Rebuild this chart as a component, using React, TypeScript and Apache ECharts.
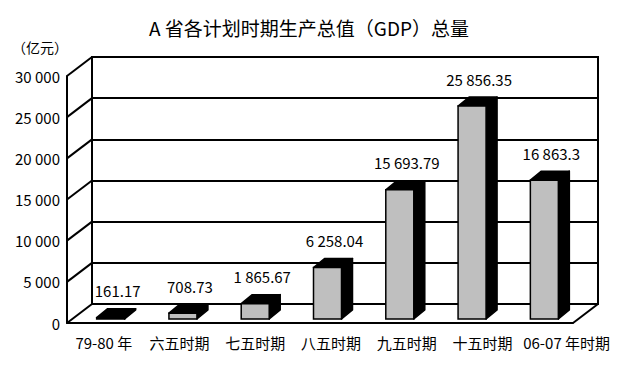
import React, { useEffect, useRef } from 'react';
import * as echarts from 'echarts';

// ---- data ----
const categories = ['79-80 年', '六五时期', '七五时期', '八五时期', '九五时期', '十五时期', '06-07 年时期'];
const gdpValues = [161.17, 708.73, 1865.67, 6258.04, 15693.79, 25856.35, 16863.3];
const yTicks = [0, 5000, 10000, 15000, 20000, 25000, 30000];
const titleText = 'A 省各计划时期生产总值（GDP）总量';
const unitText = '（亿元）';

// ---- styles ----
const FONT = "'Noto Sans CJK SC', 'Noto Sans', sans-serif";
const DEPTH_X = 25;
const DEPTH_Y = -19;
const BAR_W = 28;
const BAR_DX = 11;
const BAR_DY = -9;
const BAR_SHIFT_X = 7.5;
const BAR_SHIFT_Y = -4;
const LW = 2;

const fmtNum = (v: number): string => {
  const [ip, dp] = String(v).split('.');
  const s = ip.replace(/\B(?=(\d{3})+(?!\d))/g, ' ');
  return dp ? s + '.' + dp : s;
};

export default function App() {
  const ref = useRef<HTMLDivElement>(null);
  useEffect(() => {
    if (!ref.current) return;
    const chart = echarts.init(ref.current, undefined, { renderer: 'svg' });
    const labelData = categories.map((c, i) =>
      i === categories.length - 1 ? { value: c, textStyle: { padding: [0, 0, 0, 17] } } : c
    );
    const option: any = {
      animation: false,
      backgroundColor: '#fff',
      graphic: [
        {
          type: 'text',
          x: 309,
          y: 27,
          style: { text: titleText, align: 'center', verticalAlign: 'middle', fontSize: 19, fontFamily: FONT, fill: '#000' },
        },
        {
          type: 'text',
          x: 40,
          y: 47,
          style: { text: unitText, align: 'center', verticalAlign: 'middle', fontSize: 14, fontFamily: FONT, fill: '#000' },
        },
      ],
      grid: [
        { left: 67, right: 50, top: 76, bottom: 48 },
        { left: 92, right: 25, top: 57, bottom: 67, show: true, borderColor: '#000', borderWidth: LW, backgroundColor: 'transparent' },
        { left: 66, right: 27, top: 76, bottom: 48 },
      ],
      xAxis: [
        {
          gridIndex: 0, type: 'category', data: categories,
          axisLine: { show: true, lineStyle: { color: '#000', width: LW } },
          axisTick: { show: false }, axisLabel: { show: false }, splitLine: { show: false },
        },
        { gridIndex: 1, type: 'category', data: categories, show: false },
        {
          gridIndex: 2, type: 'category', data: labelData,
          axisLine: { show: false }, axisTick: { show: false }, splitLine: { show: false },
          axisLabel: { interval: 0, margin: 12, fontSize: 15, color: '#000', fontFamily: FONT },
        },
      ],
      yAxis: [
        {
          gridIndex: 0, type: 'value', min: 0, max: 30000, interval: 5000,
          axisLine: { show: true, lineStyle: { color: '#000', width: LW } },
          axisTick: { show: false }, splitLine: { show: false },
          axisLabel: { margin: 7, fontSize: 15, color: '#000', fontFamily: FONT, formatter: (v: number) => fmtNum(v) },
        },
        {
          gridIndex: 1, type: 'value', min: 0, max: 30000, interval: 5000,
          axisLine: { show: false }, axisTick: { show: false }, axisLabel: { show: false },
          splitLine: { show: true, lineStyle: { color: '#000', width: LW } },
        },
        { gridIndex: 2, type: 'value', min: 0, max: 30000, show: false, splitLine: { show: false } },
      ],
      series: [
        {
          type: 'custom',
          name: 'frame',
          xAxisIndex: 0,
          yAxisIndex: 0,
          silent: true,
          data: yTicks.map((v) => [0, v]),
          renderItem: (params: any, api: any) => {
            const cs = params.coordSys;
            const v = api.value(1);
            const y = api.coord([0, v])[1];
            const children: any[] = [
              { type: 'line', shape: { x1: cs.x, y1: y, x2: cs.x + DEPTH_X, y2: y + DEPTH_Y }, style: { stroke: '#000', lineWidth: LW } },
            ];
            if (v === 0) {
              const xr = cs.x + cs.width;
              children.push({ type: 'line', shape: { x1: xr, y1: y, x2: xr + DEPTH_X, y2: y + DEPTH_Y }, style: { stroke: '#000', lineWidth: LW } });
            }
            return { type: 'group', children };
          },
        },
        {
          type: 'custom',
          name: 'GDP',
          xAxisIndex: 0,
          yAxisIndex: 0,
          data: gdpValues.map((v, i) => [i, v]),
          renderItem: (_params: any, api: any) => {
            const i = api.value(0);
            const v = api.value(1);
            const base = api.coord([i, 0]);
            const top = api.coord([i, v]);
            const cx = base[0] + BAR_SHIFT_X;
            const L = cx - BAR_W / 2;
            const R = cx + BAR_W / 2;
            const B = base[1] + BAR_SHIFT_Y;
            const T = top[1] + BAR_SHIFT_Y;
            const dark = { fill: '#000', stroke: '#000', lineWidth: 1.5, lineJoin: 'round' };
            return {
              type: 'group',
              children: [
                { type: 'polygon', shape: { points: [[R, T], [R + BAR_DX, T + BAR_DY], [R + BAR_DX, B + BAR_DY], [R, B]] }, style: dark },
                { type: 'polygon', shape: { points: [[L, T], [L + BAR_DX, T + BAR_DY], [R + BAR_DX, T + BAR_DY], [R, T]] }, style: dark },
                { type: 'rect', shape: { x: L, y: T, width: BAR_W, height: Math.max(B - T, 0.5) }, style: { fill: '#bfbfbf', stroke: '#000', lineWidth: 1.5 } },
                {
                  type: 'text',
                  style: {
                    text: fmtNum(v), x: cx + 7, y: T + BAR_DY - 18,
                    align: 'center', verticalAlign: 'middle', fontSize: 15, fontFamily: FONT, fill: '#000',
                  },
                },
              ],
            };
          },
        },
      ],
    };
    chart.setOption(option);
    return () => chart.dispose();
  }, []);
  return <div ref={ref} style={{ position: 'fixed', left: 0, top: 0, width: 623, height: 371 }} />;
}
